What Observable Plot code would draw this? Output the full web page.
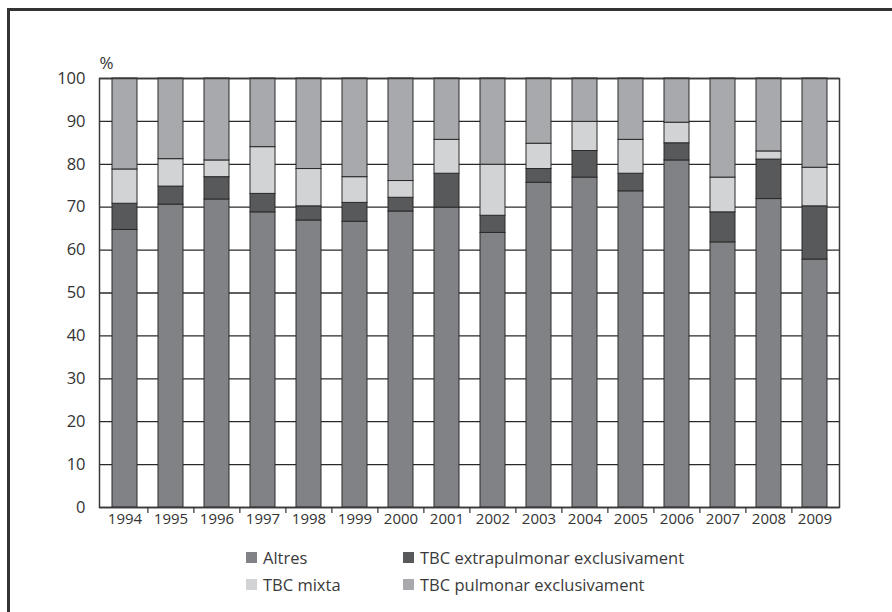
<!DOCTYPE html>
<html>
<head>
<meta charset="utf-8">
<script src="https://cdn.jsdelivr.net/npm/d3@7"></script>
<script src="https://cdn.jsdelivr.net/npm/@observablehq/plot@0.6"></script>
<style>
  html, body { margin: 0; padding: 0; background: #fff; }
  #wrap { position: relative; width: 892px; height: 612px; overflow: hidden; background: #fff; font-family: "Open Sans", sans-serif; color: #333; }
  #outer { position: absolute; left: 7px; top: 8px; width: 1000px; height: 1000px; border: 3px solid #333; box-sizing: border-box; }
  #chart { position: absolute; left: 0; top: 0; }
  #legend { position: absolute; left: 246px; top: 544px; display: grid; grid-template-columns: 157px auto; grid-auto-rows: 27px; font-size: 16.5px; color: #3a3a3a; }
  #legend div { display: flex; align-items: center; white-space: nowrap; }
  #legend span.sw { display: inline-block; width: 11px; height: 11px; margin-right: 6px; }
</style>
</head>
<body>
<div id="wrap">
  <div id="outer"></div>
  <div id="chart"></div>
  <div id="legend"></div>
</div>
<script>
const years = ["1994","1995","1996","1997","1998","1999","2000","2001","2002","2003","2004","2005","2006","2007","2008","2009"];
const seriesNames = ["Altres", "TBC extrapulmonar exclusivament", "TBC mixta", "TBC pulmonar exclusivament"];
const seriesColors = ["#808285", "#58595b", "#d1d3d4", "#a7a9ac"];
const altres    = [64.7,70.6,71.8,68.8,66.9,66.6,69.0,69.9,64.0,75.7,76.9,73.7,80.9,61.8,71.9,57.8];
const extrapulm = [6.1,4.2,5.2,4.3,3.3,4.4,3.2,7.9,4.0,3.2,6.2,4.1,4.0,7.0,9.2,12.4];
const mixta     = [8.0,6.4,3.9,10.9,8.7,6.0,3.9,7.9,11.9,5.9,6.8,7.9,4.8,8.1,1.9,9.0];
const pulmonar  = [21.2,18.8,19.1,16.0,21.1,23.0,23.9,14.3,20.1,15.2,10.1,14.3,10.3,23.1,17.0,20.8];
const yTicks = [0,10,20,30,40,50,60,70,80,90,100];

const seriesValues = [altres, extrapulm, mixta, pulmonar];
const data = [];
years.forEach((yr, i) => {
  seriesNames.forEach((s, k) => data.push({year: yr, series: s, value: seriesValues[k][i]}));
});

const W = 892, mL = 99, mR = 53;
const step = (W - mL - mR) / years.length;

const chart = Plot.plot({
  width: W,
  height: 540,
  marginLeft: mL,
  marginRight: mR,
  marginTop: 78,
  marginBottom: 33,
  style: {fontFamily: "Open Sans, sans-serif", color: "#333", background: "transparent"},
  x: {domain: years, paddingInner: 0.46, paddingOuter: 0.23},
  y: {domain: [0, 100]},
  color: {domain: seriesNames, range: seriesColors},
  marks: [
    Plot.gridY(yTicks, {stroke: "#2a2a2a", strokeOpacity: 1, strokeWidth: 1.3}),
    Plot.barY(data, {x: "year", y: "value", fill: "series", stroke: "#2a2a2a", strokeWidth: 1, order: null}),
    Plot.frame({stroke: "#3a3a3a", strokeWidth: 1.5}),
    Plot.axisY({ticks: yTicks, tickSize: 0, tickPadding: 14, label: null, fontSize: 16.5}),
    Plot.axisX(years.slice(1), {tickSize: 6, text: null, label: null, dx: -step / 2, stroke: "#333", strokeWidth: 1.2}),
    Plot.axisX({tickSize: 0, tickPadding: 6, label: null, fontSize: 15}),
    Plot.text(["%"], {frameAnchor: "top-left", dy: -22, textAnchor: "start", fontSize: 17, fill: "#333"})
  ]
});
document.getElementById("chart").appendChild(chart);

const legend = document.getElementById("legend");
[0, 1, 2, 3].forEach(k => {
  const d = document.createElement("div");
  d.innerHTML = `<span class="sw" style="background:${seriesColors[k]}"></span>${seriesNames[k]}`;
  legend.appendChild(d);
});
</script>
</body>
</html>
